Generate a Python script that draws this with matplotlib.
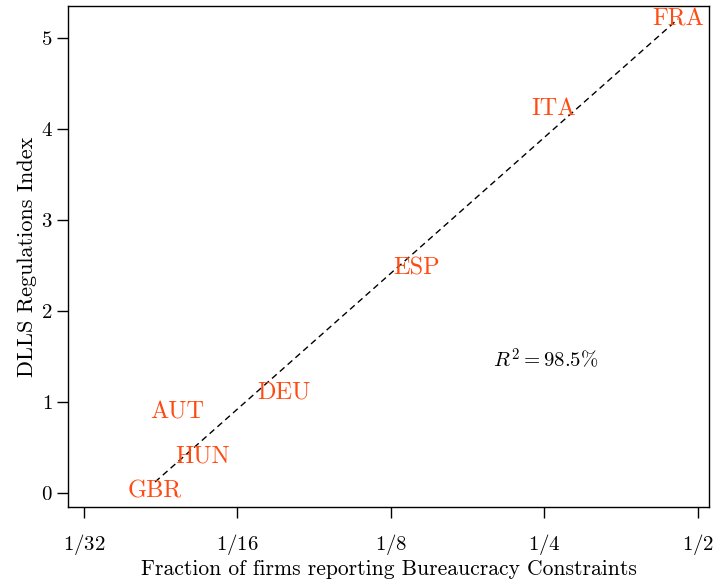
import numpy as np
import matplotlib
matplotlib.use("Agg")
import matplotlib.pyplot as plt

plt.rcParams['font.family'] = 'serif'
plt.rcParams['font.serif'] = ['cmr10', 'DejaVu Serif']
plt.rcParams['mathtext.fontset'] = 'cm'
plt.rcParams['axes.formatter.use_mathtext'] = True

countries = ["GBR", "HUN", "AUT", "DEU", "ESP", "ITA", "FRA"]
log2_frac = [-4.537, -4.225, -4.394, -3.697, -2.831, -1.938, -1.130]
dlls = [0.02, 0.40, 0.88, 1.10, 2.47, 4.22, 5.20]
xticks = [1/32, 1/16, 1/8, 1/4, 1/2]
xticklabels = ["$1/32$", "$1/16$", "$1/8$", "$1/4$", "$1/2$"]
yticks = [0, 1, 2, 3, 4, 5]
r2_text = r"$R^2 = 98.5\%$"

frac = np.power(2.0, log2_frac)
lx = np.log2(frac)
b, a = np.polyfit(lx, dlls, 1)

fig = plt.figure(figsize=(7.16, 5.80), dpi=100)
ax = fig.add_axes([68/716, 1 - 507/580, (709-68)/716, (507-6)/580])
ax.set_xscale('log', base=2)

col = '#ff4a12'
for c, x, y in zip(countries, frac, dlls):
    ax.text(x, y, c, color=col, fontsize=17.5, ha='center', va='center')

xs = np.array([lx.min(), lx.max()])
ax.plot(2.0**xs, a + b*xs, color='black', linestyle=(0, (4.5, 3)), linewidth=1.0)

ax.text(2.0**(-1.99), 1.48, r2_text, fontsize=15, ha='center', va='center')

ax.set_xlim(2.0**(-5.104), 2.0**(-0.928))
ax.set_ylim(-0.154, 5.35)
ax.set_xticks(xticks)
ax.set_xticklabels(xticklabels)
ax.xaxis.set_minor_locator(matplotlib.ticker.NullLocator())
ax.set_yticks(yticks)
ax.set_yticklabels([f"${v}$" for v in yticks])
ax.tick_params(axis='both', direction='out', length=8, width=1, labelsize=15)
ax.tick_params(axis='x', pad=10)
ax.tick_params(axis='y', pad=3)
ax.set_xlabel("Fraction of firms reporting Bureaucracy Constraints", fontsize=15.5, labelpad=2)
ax.set_ylabel("DLLS Regulations Index", fontsize=16, labelpad=3)
for s in ax.spines.values():
    s.set_linewidth(1.0)

fig.savefig("out.png", dpi=100)
